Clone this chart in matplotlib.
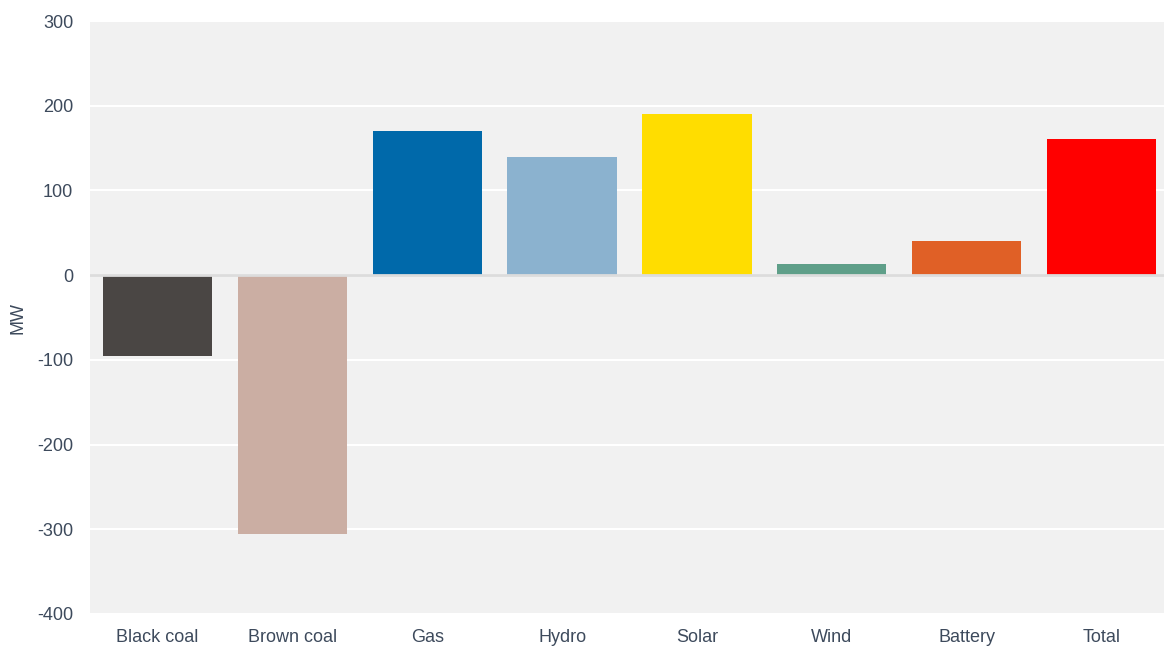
import matplotlib
matplotlib.use("Agg")
import matplotlib.pyplot as plt

# Change in generation by fuel type (MW)
categories = ["Black coal", "Brown coal", "Gas", "Hydro", "Solar", "Wind", "Battery", "Total"]
change_mw = [-95, -305, 170, 140, 190, 13, 40, 161]
bar_colors = ["#4a4644", "#cbaea3", "#0069aa", "#8bb2cf", "#ffdd00", "#5f9f89", "#e06026", "#ff0000"]

plt.rcParams["font.family"] = ["Liberation Sans", "DejaVu Sans"]
plt.rcParams["axes.unicode_minus"] = False
text_color = "#3d4a5c"

fig = plt.figure(figsize=(11.64, 6.49), dpi=100)
ax = fig.add_axes([90 / 1164, 35 / 649, 1079 / 1164, 593 / 649])
ax.set_facecolor("#f1f1f1")

x = range(len(categories))
ax.bar(x, change_mw, width=0.81, color=bar_colors, zorder=2)
ax.axhline(0, color="#dcdcdc", linewidth=2, zorder=3)

ax.set_xlim(-0.5, len(categories) - 0.5)
ax.set_ylim(-400, 300)
ax.set_yticks(range(-400, 301, 100))
ax.set_xticks(list(x))
ax.set_xticklabels(categories)
ax.yaxis.grid(True, color="white", linewidth=1.5, zorder=1)
ax.set_axisbelow(True)

for side in ax.spines.values():
    side.set_visible(False)
ax.tick_params(axis="both", length=0, labelsize=13, colors=text_color)
ax.tick_params(axis="y", pad=12)
ax.tick_params(axis="x", pad=11)

ax.set_ylabel("MW", fontsize=13, color=text_color, va="center")
ax.yaxis.set_label_coords(-72 / 1079, 0.5)

fig.savefig("out.png", dpi=100)
